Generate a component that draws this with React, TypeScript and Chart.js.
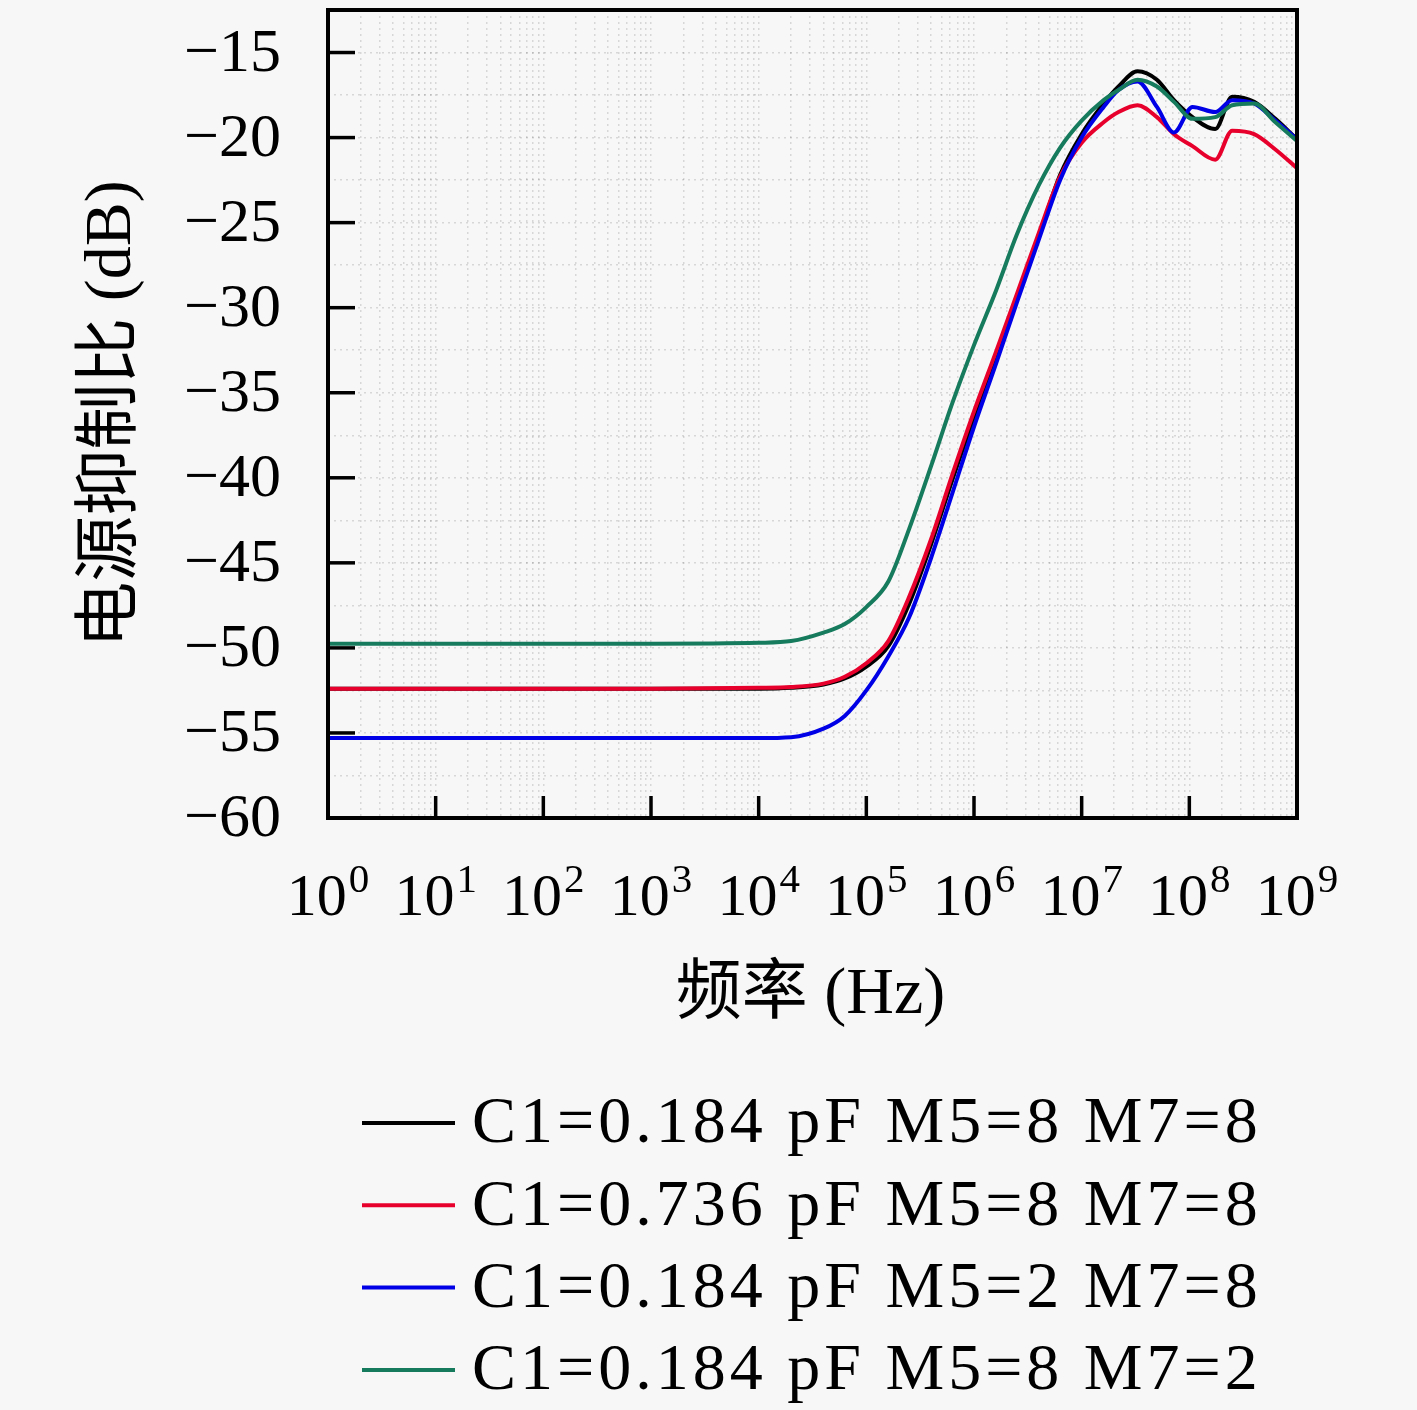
import { useEffect, useRef } from 'react'
import { Chart, registerables } from 'chart.js'

Chart.register(...registerables)

// frequency points (Hz)
const freqs = [
  1, 10, 100, 1e3, 1e4, 2e4, 4e4, 6.3e4, 1e5, 1.6e5, 2.5e5, 4e5, 6.3e5, 1e6, 1.6e6,
  2.5e6, 4e6, 6.3e6, 1e7, 1.6e7, 2.2e7, 3.3e7, 5e7, 7.2e7, 1.07e8, 1.74e8, 2.5e8, 4e8, 6.3e8, 1e9
]

const seriesLabels = [
  'C1=0.184 pF M5=8 M7=8',
  'C1=0.736 pF M5=8 M7=8',
  'C1=0.184 pF M5=2 M7=8',
  'C1=0.184 pF M5=8 M7=2'
]

const seriesColors = ['#000000', '#e8002c', '#0000e6', '#167a5c']

const psrrBlack = [
  -52.4, -52.4, -52.4, -52.4, -52.4, -52.35, -52.15, -51.8, -51.1, -49.9, -47.4, -43.9, -40.1, -36.4, -32.8,
  -29.4, -25.8, -22.2, -19.8, -18.0, -17.0, -16.1, -16.6, -17.8, -18.8, -19.5, -17.6, -17.9, -18.9, -20.1
]
const psrrRed = [
  -52.4, -52.4, -52.4, -52.4, -52.35, -52.3, -52.1, -51.7, -50.9, -49.6, -47.0, -43.6, -39.8, -36.1, -32.6,
  -29.2, -25.6, -22.3, -20.3, -19.1, -18.5, -18.1, -18.8, -19.8, -20.5, -21.3, -19.6, -19.8, -20.7, -21.8
]
const psrrBlue = [
  -55.3, -55.3, -55.3, -55.3, -55.3, -55.25, -54.75, -54.0, -52.5, -50.5, -48.2, -44.7, -40.9, -37.0, -33.3,
  -29.7, -26.0, -22.5, -20.0, -18.2, -17.2, -16.7, -18.2, -19.7, -18.2, -18.5, -17.8, -18.0, -19.0, -20.1
]
const psrrGreen = [
  -49.75, -49.75, -49.75, -49.75, -49.7, -49.6, -49.1, -48.6, -47.6, -46.1, -43.0, -39.3, -35.6, -32.2, -29.0,
  -25.7, -22.8, -20.6, -19.0, -17.8, -17.2, -16.6, -17.0, -17.9, -18.9, -18.8, -18.1, -18.0, -19.1, -20.2
]

const seriesValues = [psrrBlack, psrrRed, psrrBlue, psrrGreen]

// tick labels
const yTickValues = [-60, -55, -50, -45, -40, -35, -30, -25, -20, -15]
const xDecades = [0, 1, 2, 3, 4, 5, 6, 7, 8, 9]

const xTitle = '频率 (Hz)'
const yTitle = '电源抑制比 (dB)'

const BG = '#f7f7f7'
const SERIF = "'Liberation Serif', 'Noto Sans CJK SC', serif"

const decorations = {
  id: 'decorations',
  beforeDraw(chart) {
    const { ctx, width, height } = chart
    ctx.save()
    ctx.fillStyle = BG
    ctx.fillRect(0, 0, width, height)
    ctx.restore()
  },
  afterDatasetsDraw(chart) {
    const { ctx, chartArea: a } = chart
    const x = chart.scales.x
    const y = chart.scales.y
    ctx.save()
    ctx.fillStyle = '#000'
    ctx.strokeStyle = '#000'

    // frame
    ctx.lineWidth = 4
    ctx.strokeRect(a.left, a.top, a.right - a.left, a.bottom - a.top)

    // y ticks + labels
    ctx.lineWidth = 3.5
    ctx.font = `62px ${SERIF}`
    ctx.textAlign = 'right'
    ctx.textBaseline = 'middle'
    yTickValues.forEach((v) => {
      const py = y.getPixelForValue(v)
      ctx.beginPath()
      ctx.moveTo(a.left, py)
      ctx.lineTo(a.left + 27, py)
      ctx.stroke()
      ctx.fillText('\u2212' + Math.abs(v), a.left - 47, py + 2)
    })

    // x ticks + labels (10^n)
    ctx.textAlign = 'left'
    ctx.textBaseline = 'alphabetic'
    xDecades.forEach((d) => {
      const px = x.getPixelForValue(Math.pow(10, d))
      ctx.beginPath()
      ctx.moveTo(px, a.bottom)
      ctx.lineTo(px, a.bottom - 22)
      ctx.stroke()
      ctx.font = `60px ${SERIF}`
      const wBase = ctx.measureText('10').width
      ctx.font = `41px ${SERIF}`
      const wExp = ctx.measureText(String(d)).width
      const start = px - (wBase + wExp + 2) / 2
      ctx.font = `60px ${SERIF}`
      ctx.fillText('10', start, a.bottom + 97)
      ctx.font = `41px ${SERIF}`
      ctx.fillText(String(d), start + wBase + 2, a.bottom + 74)
    })

    // axis titles
    ctx.font = `66px ${SERIF}`
    ctx.textAlign = 'center'
    ctx.textBaseline = 'middle'
    ctx.fillText(xTitle, (a.left + a.right) / 2 - 2, a.bottom + 178)
    ctx.save()
    ctx.translate(113, (a.top + a.bottom) / 2)
    ctx.rotate(-Math.PI / 2)
    ctx.fillText(yTitle, 0, 0)
    ctx.restore()

    // legend
    ctx.textAlign = 'left'
    ctx.font = `66px ${SERIF}`
    ctx.letterSpacing = '4px'
    chart.data.datasets.forEach((ds, i) => {
      const ly = 1123 + i * 82.3
      ctx.strokeStyle = ds.borderColor
      ctx.lineWidth = 4
      ctx.beginPath()
      ctx.moveTo(362, ly)
      ctx.lineTo(455, ly)
      ctx.stroke()
      ctx.fillStyle = '#000'
      ctx.fillText(ds.label, 472, ly + 2)
    })
    ctx.restore()
  }
}

const PsrrChart = () => {
  const chartRef = useRef(null)
  const chartInstance = useRef(null)

  useEffect(() => {
    if (chartRef && chartRef.current) {
      const ctx = chartRef.current.getContext('2d')

      if (chartInstance.current) {
        chartInstance.current.destroy()
      }

      const gridStyle = { color: 'rgba(0,0,0,0.13)', lineWidth: 1.5, drawTicks: false }

      chartInstance.current = new Chart(ctx, {
        type: 'line',
        data: {
          datasets: seriesValues.map((vals, i) => ({
            label: seriesLabels[i],
            data: freqs.map((f, k) => ({ x: f, y: vals[k] })),
            borderColor: seriesColors[i],
            borderWidth: 4,
            pointRadius: 0,
            fill: false,
            cubicInterpolationMode: 'monotone',
            order: 4 - i
          }))
        },
        options: {
          responsive: false,
          animation: false,
          devicePixelRatio: 1,
          layout: { padding: { left: 328, right: 120, top: 10, bottom: 592 } },
          plugins: {
            legend: { display: false },
            tooltip: { enabled: false }
          },
          scales: {
            x: {
              type: 'logarithmic',
              min: 1,
              max: 1e9,
              grid: gridStyle,
              border: { display: false, dash: [2, 4] },
              ticks: { display: false },
              afterBuildTicks: (scale) => {
                const ticks = []
                xDecades.forEach((d) => {
                  for (let m = 1; m < 10; m++) {
                    const v = m * Math.pow(10, d)
                    if (v <= 1e9) ticks.push({ value: v })
                  }
                })
                scale.ticks = ticks
              },
              afterFit: (scale) => {
                scale.height = 0
              }
            },
            y: {
              min: -60,
              max: -12.5,
              grid: gridStyle,
              border: { display: false, dash: [2, 4] },
              ticks: { display: false, stepSize: 2.5 },
              afterFit: (scale) => {
                scale.width = 0
              }
            }
          }
        },
        plugins: [decorations]
      })
    }

    return () => {
      if (chartInstance.current) {
        chartInstance.current.destroy()
      }
    }
  }, [])

  return (
    <canvas
      ref={chartRef}
      width={1417}
      height={1410}
      style={{ position: 'fixed', left: 0, top: 0, width: 1417, height: 1410 }}
    />
  )
}

export default function App() {
  return <PsrrChart />
}
